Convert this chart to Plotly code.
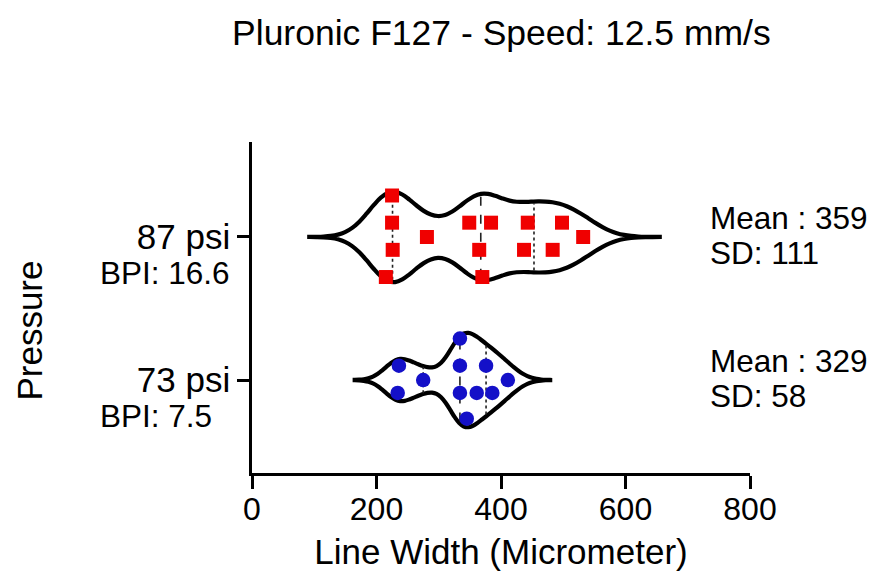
import numpy as np
import plotly.graph_objects as go

# ---- data ----
categories = ["73 psi", "87 psi"]
bpi_labels = ["BPI: 7.5", "BPI: 16.6"]
mean_labels = ["Mean : 329", "Mean : 359"]
sd_labels = ["SD: 58", "SD: 111"]

psi87_values = [225, 225, 349, 384, 443, 498, 281, 532, 226, 365, 437, 483, 215, 370]
psi87_row = [0.29, 0.10, 0.10, 0.10, 0.10, 0.10, 0.0, 0.0, -0.09, -0.09, -0.09, -0.09, -0.28, -0.28]
psi73_values = [334, 236, 334, 376, 275, 411, 234, 334, 361, 386, 345]
psi73_row = [0.29, 0.10, 0.10, 0.10, 0.0, 0.0, -0.09, -0.09, -0.09, -0.09, -0.27]

x_ticks = [0, 200, 400, 600, 800]

FONT = "Liberation Sans, Arial, Helvetica, sans-serif"

groups = [
    dict(vals=psi73_values, row=psi73_row, pos=0, bw=22, span=[165, 479], width=0.66,
         color="#1410c8", symbol="circle", size=14.5),
    dict(vals=psi87_values, row=psi87_row, pos=1, bw=35, span=[92, 655], width=0.63,
         color="#f00000", symbol="square", size=14),
]

fig = go.Figure()

for g in groups:
    fig.add_trace(go.Violin(
        x=g["vals"], y0=g["pos"], orientation="h", bandwidth=g["bw"],
        spanmode="manual", span=g["span"], scalemode="width", width=g["width"],
        line=dict(color="black", width=4.2), fillcolor="rgba(255,255,255,0)",
        points=False, box_visible=False, meanline_visible=False,
        hoverinfo="skip", showlegend=False,
    ))

for g in groups:
    v = np.array(g["vals"], dtype=float)
    grid = np.linspace(g["span"][0], g["span"][1], 600)
    dens = np.exp(-0.5 * ((grid[:, None] - v[None, :]) / g["bw"]) ** 2).sum(axis=1)
    dmax = dens.max()
    q1, med, q3 = np.percentile(v, [25, 50, 75], method="weibull")
    for q, dash in [(q1, "dot"), (med, "dash"), (q3, "dot")]:
        d = np.exp(-0.5 * ((q - v) / g["bw"]) ** 2).sum()
        h = g["width"] / 2 * d / dmax * 0.95
        fig.add_trace(go.Scatter(
            x=[q, q], y=[g["pos"] - h, g["pos"] + h], mode="lines",
            line=dict(color="#222222", width=1.6, dash=dash),
            hoverinfo="skip", showlegend=False,
        ))

for g in groups:
    fig.add_trace(go.Scatter(
        x=g["vals"], y=[g["pos"] + r for r in g["row"]], mode="markers",
        marker=dict(color=g["color"], symbol=g["symbol"], size=g["size"], line=dict(width=0)),
        showlegend=False,
    ))

annotations = []
for i, g in enumerate(groups):
    annotations.append(dict(
        x=-0.309, xref="paper", y=g["pos"] - 0.25, yref="y", text=bpi_labels[i],
        showarrow=False, xanchor="left", yanchor="middle",
        font=dict(family=FONT, size=31.5, color="black"),
    ))
    annotations.append(dict(
        x=0.916, xref="paper", y=g["pos"] + 0.133, yref="y", text=mean_labels[i],
        showarrow=False, xanchor="left", yanchor="middle", align="left",
        font=dict(family=FONT, size=31.5, color="black"),
    ))
    annotations.append(dict(
        x=0.916, xref="paper", y=g["pos"] - 0.112, yref="y", text=sd_labels[i],
        showarrow=False, xanchor="left", yanchor="middle", align="left",
        font=dict(family=FONT, size=31.5, color="black"),
    ))
annotations.append(dict(
    x=-0.446, xref="paper", y=0.43, yref="paper", text="Pressure", textangle=-90,
    showarrow=False, xanchor="center", yanchor="middle",
    font=dict(family=FONT, size=35, color="black"),
))

fig.update_layout(
    width=869, height=578,
    margin=dict(l=252, r=119, t=142, b=105),
    paper_bgcolor="white", plot_bgcolor="white",
    violinmode="overlay",
    title=dict(text="Pluronic F127 - Speed: 12.5 mm/s", x=0.577, xanchor="center",
               y=0.943, yanchor="middle", font=dict(family=FONT, size=35.5, color="black")),
    font=dict(family=FONT, color="black"),
    annotations=annotations,
)
fig.update_xaxes(
    range=[0, 800], tickvals=x_ticks, ticktext=[str(t) for t in x_ticks],
    showline=True, linecolor="black", linewidth=2.5, ticks="outside", ticklen=13,
    tickwidth=2.5, tickcolor="black", showgrid=False, zeroline=False,
    tickfont=dict(family=FONT, size=32, color="black"), ticklabelstandoff=-7,
    title=dict(text="Line Width (Micrometer)", font=dict(family=FONT, size=35, color="black"), standoff=14),
)
fig.update_yaxes(
    range=[-0.65, 1.664], tickvals=[0, 1], ticktext=categories,
    showline=True, linecolor="black", linewidth=2.5, ticks="outside", ticklen=12,
    tickwidth=2.5, tickcolor="black", showgrid=False, zeroline=False,
    tickfont=dict(family=FONT, size=35, color="black"),
)

fig.write_html("out.html")
